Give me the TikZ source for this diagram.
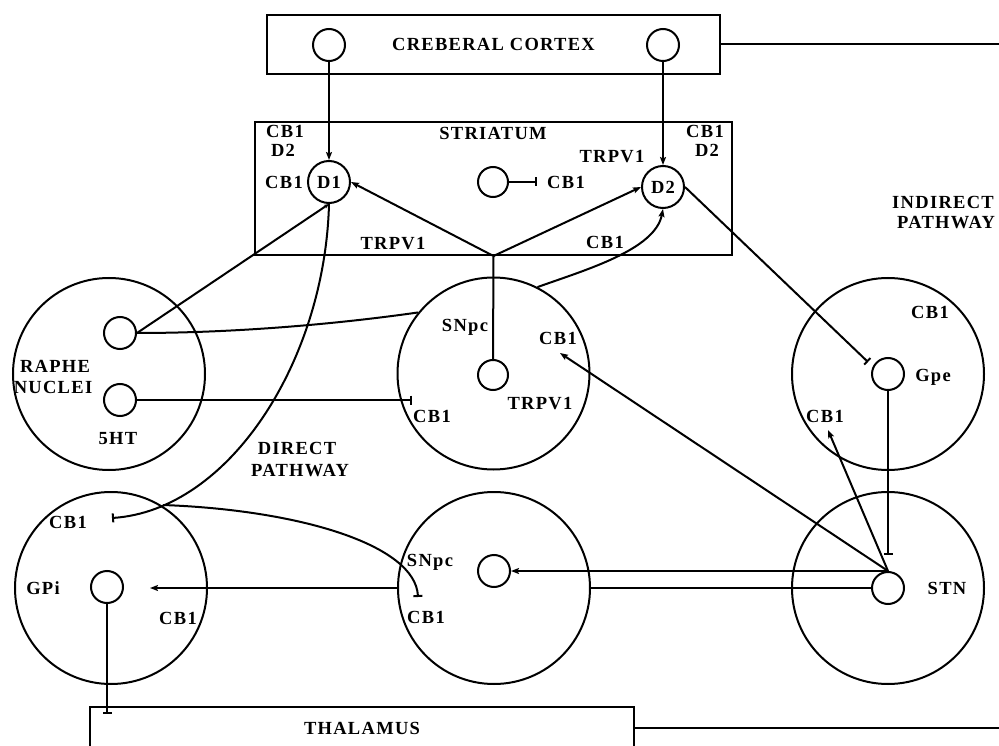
\documentclass[tikz,border=0pt]{standalone}
\usepackage{fontspec}
\setmainfont{Liberation Serif}[LetterSpace=7]
\usetikzlibrary{arrows.meta}
\newcommand\pwfont{\bfseries\fontsize{18.5}{18.5}\selectfont}
\begin{document}
\begin{tikzpicture}[x=1pt,y=-1pt,
  wire/.style={line width=2pt},
  arr/.style={wire,-{Stealth[length=8pt,width=6pt,inset=1.5pt]}},
  inh/.style={wire,-{Bar[width=9pt]}},
  region/.style={draw,circle,line width=2pt,minimum size=192pt,inner sep=0pt},
  cell/.style={draw,circle,line width=2pt,minimum size=32pt,inner sep=0pt},
  bigcell/.style={draw,circle,line width=2pt,minimum size=42pt,inner sep=0pt,font=\pwfont},
  lbl/.style={inner sep=0pt,text depth=0pt,font=\pwfont},
  box/.style={draw,line width=2pt,inner sep=0pt,font=\pwfont}]
\useasboundingbox (0,0) rectangle (999,746);
\clip (0,0) rectangle (999,746);

% ---------- cortex ----------
\node[box,line width=2.6pt,minimum width=453pt,minimum height=59pt] (cortex) at (493.5,44.5) {CREBERAL CORTEX};
\node[cell] (cl) at (329,45) {};
\node[cell] (cr) at (663,45) {};
\coordinate (cortexout) at (999,44.5);
\draw[wire] (cortex.east) -- (cortexout);

% ---------- striatum ----------
\node[box,minimum width=477pt,minimum height=133pt] (striatum) at (493.5,188.5) {};
\node[lbl] (stname) at (493,133) {STRIATUM};
\node[bigcell] (d1) at (329,182) {D1};
\node[bigcell] (d2) at (663,187) {D2};
\node[cell,minimum size=30pt] (mst) at (493,182) {};
\coordinate (mstbar) at (537,182);
\node[lbl] (tlcb) at (285,131) {CB1};
\node[lbl] (tld2) at (283,150) {D2};
\node[lbl] (trcb) at (705,131) {CB1};
\node[lbl] (trd2) at (707,150) {D2};
\node[lbl] (d2trp) at (612,156) {TRPV1};
\node[lbl] (d1cb) at (284,182) {CB1};
\node[lbl] (mstcb) at (566,182) {CB1};
\node[lbl] (lowtrp) at (393,243) {TRPV1};
\node[lbl] (lowcb) at (605,242) {CB1};

% ---------- nuclei ----------
\node[region] (raphe) at (109,374) {};
\node[region] (snu) at (493.5,373.5) {};
\node[region] (gpe) at (888,374) {};
\node[region] (gpi) at (111,588) {};
\node[region] (snl) at (494,588) {};
\node[region] (stn) at (888,588) {};

\node[cell] (ra1) at (120,333) {};
\node[cell] (ra2) at (120,400) {};
\node[cell,minimum size=30pt] (snuc) at (493,375) {};
\node[cell] (gpec) at (888,374) {};
\node[cell] (gpic) at (107,587) {};
\node[cell] (snlc) at (494,571) {};
\node[cell] (stnc) at (888,588) {};

\node[lbl] (rname1) at (55,366) {RAPHE};
\node[lbl] (rname2) at (53,387) {NUCLEI};
\node[lbl] (fiveht) at (118,438) {5HT};
\node[lbl] (snuname) at (465,325) {SNpc};
\node[lbl] (snucb1) at (558,338) {CB1};
\node[lbl] (snutrp) at (540,403) {TRPV1};
\node[lbl] (snucb2) at (432,416) {CB1};
\node[lbl] (dp1) at (297,448) {DIRECT};
\node[lbl] (dp2) at (300,470) {PATHWAY};
\node[lbl] (ip1) at (943,202) {INDIRECT};
\node[lbl] (ip2) at (946,222) {PATHWAY};
\node[lbl] (gpecb1) at (930,312) {CB1};
\node[lbl] (gpename) at (933,375) {Gpe};
\node[lbl] (gpecb2) at (825,416) {CB1};
\node[lbl] (gpicb1) at (68,522) {CB1};
\node[lbl] (gpiname) at (43,588) {GPi};
\node[lbl] (gpicb2) at (178,618) {CB1};
\node[lbl] (snlname) at (430,560) {SNpc};
\node[lbl] (snlcb) at (426,617) {CB1};
\node[lbl] (stnname) at (947,588) {STN};

% ---------- thalamus ----------
\node[box,minimum width=544pt,minimum height=42pt] (thal) at (362,728) {THALAMUS};
\coordinate (thalout) at (999,728);
\draw[wire] (thal.east) -- (thalout);

% ---------- free ends ----------
\coordinate (sncb) at (412,400);
\coordinate (gpebar) at (868,362);
\coordinate (stnbar) at (888,555);
\coordinate (snucbtip) at (560,353);
\coordinate (gpecbtip) at (828,430);
\coordinate (gpiarr) at (150,588);
\coordinate (thalbar) at (107,714);
\coordinate (gpicbbar) at (112,518);
\coordinate (dj) at (163,505);
\coordinate (snlcbbar) at (418,597);

% ---------- connections ----------
\draw[arr] (cl) -- (d1);
\draw[arr] (cr) -- (d2);
\draw[inh] (mst) -- (mstbar);
\draw[arr] (striatum.south) -- (d1.east);
\draw[arr] (striatum.south) -- (d2.west);
\draw[wire] (striatum.south) -- (snuc.north);
\draw[wire,-{Stealth[length=5pt,width=4pt]}] (ra1.east) -- (d1.south);
\draw[wire] (ra1.east) .. controls (230,333) and (330,325) .. (snu.141);
\draw[arr] (snu.63) .. controls (585,270) and (655,250) .. (d2.south);
\draw[inh] (ra2.east) -- (sncb);
\draw[inh] (d2.east) -- (gpebar);
\draw[inh] (gpec.south) -- (stnbar);
\draw[arr] (stnc.north) -- (snucbtip);
\draw[arr] (stnc.north) -- (gpecbtip);
\draw[arr] (stnc.north) -- (snlc.east);
\draw[wire] (stnc.west) -- (snl.east);
\draw[arr] (snl.west) -- (gpiarr);
\draw[inh] (gpic.south) -- (thalbar);
\draw[inh] (d1.south) .. controls (325,360) and (230,510) .. (gpicbbar);
\draw[inh] (dj) .. controls (300,510) and (415,545) .. (snlcbbar);
\end{tikzpicture}
\end{document}
